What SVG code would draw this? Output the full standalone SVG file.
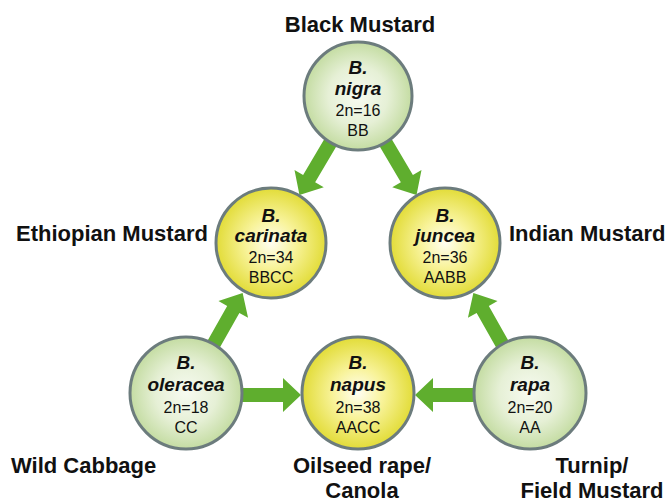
<svg xmlns="http://www.w3.org/2000/svg" width="670" height="504" viewBox="0 0 670 504">
  <defs>
    <radialGradient id="gGreen" cx="50%" cy="50%" r="50%">
      <stop offset="0" stop-color="#f7fbf1"/>
      <stop offset="0.55" stop-color="#e6f0d6"/>
      <stop offset="1" stop-color="#c4dca2"/>
    </radialGradient>
    <radialGradient id="gYellow" cx="50%" cy="50%" r="50%">
      <stop offset="0" stop-color="#fffef2"/>
      <stop offset="0.45" stop-color="#f8f39a"/>
      <stop offset="1" stop-color="#e2dc38"/>
    </radialGradient>
  </defs>
  <style>
    .green { fill: url(#gGreen); stroke: #6c7c7d; stroke-width: 3; }
    .yellow { fill: url(#gYellow); stroke: #6c7c7d; stroke-width: 3; }
    .sp { font-family: "Liberation Sans", Arial, sans-serif; font-weight: bold; font-style: italic; font-size: 19px; fill: #111; text-anchor: middle; }
    .cn { font-family: "Liberation Sans", Arial, sans-serif; font-size: 16px; fill: #111; text-anchor: middle; }
    .lbl { font-family: "Liberation Sans", Arial, sans-serif; font-weight: bold; font-size: 22px; fill: #111; }
    .arrow { fill: #5fae2e; }
  </style>

  <g id="connectors">
    <polygon class="arrow" transform="translate(358,96) rotate(120.6)" points="40,-7 96,-7 96,-17 115,0 96,17 96,7 40,7"/>
    <polygon class="arrow" transform="translate(358,96) rotate(59.4)" points="40,-7 96,-7 96,-17 115,0 96,17 96,7 40,7"/>
    <polygon class="arrow" transform="translate(186,393) rotate(-60.5)" points="40,-7 96,-7 96,-17 115,0 96,17 96,7 40,7"/>
    <polygon class="arrow" transform="translate(530,393) rotate(-119.5)" points="40,-7 96,-7 96,-17 115,0 96,17 96,7 40,7"/>
    <polygon class="arrow" transform="translate(186,395)" points="40,-7 97,-7 97,-17 115,0 97,17 97,7 40,7"/>
    <polygon class="arrow" transform="translate(530,395) rotate(180)" points="40,-7 97,-7 97,-17 115,0 97,17 97,7 40,7"/>
  </g>

  <g id="nigra">
    <circle class="green" cx="358" cy="96" r="54"/>
    <text class="sp" x="358" y="74">B.</text>
    <text class="sp" x="358" y="95">nigra</text>
    <text class="cn" x="358" y="116">2n=16</text>
    <text class="cn" x="358" y="136">BB</text>
  </g>

  <g id="carinata">
    <circle class="yellow" cx="271" cy="243" r="55"/>
    <text class="sp" x="271" y="222">B.</text>
    <text class="sp" x="271" y="242">carinata</text>
    <text class="cn" x="271" y="263">2n=34</text>
    <text class="cn" x="271" y="283">BBCC</text>
  </g>

  <g id="juncea">
    <circle class="yellow" cx="445" cy="243" r="55"/>
    <text class="sp" x="445" y="222">B.</text>
    <text class="sp" x="445" y="242">juncea</text>
    <text class="cn" x="445" y="263">2n=36</text>
    <text class="cn" x="445" y="283">AABB</text>
  </g>

  <g id="oleracea">
    <circle class="green" cx="186" cy="393" r="56"/>
    <text class="sp" x="186" y="369">B.</text>
    <text class="sp" x="186" y="391">oleracea</text>
    <text class="cn" x="186" y="413">2n=18</text>
    <text class="cn" x="186" y="433">CC</text>
  </g>

  <g id="napus">
    <circle class="yellow" cx="358" cy="393" r="56"/>
    <text class="sp" x="358" y="369">B.</text>
    <text class="sp" x="358" y="391">napus</text>
    <text class="cn" x="358" y="413">2n=38</text>
    <text class="cn" x="358" y="433">AACC</text>
  </g>

  <g id="rapa">
    <circle class="green" cx="530" cy="393" r="56"/>
    <text class="sp" x="530" y="369">B.</text>
    <text class="sp" x="530" y="391">rapa</text>
    <text class="cn" x="530" y="413">2n=20</text>
    <text class="cn" x="530" y="433">AA</text>
  </g>

  <g id="labels">
    <text class="lbl" x="360" y="32" text-anchor="middle">Black Mustard</text>
    <text class="lbl" x="16" y="241">Ethiopian Mustard</text>
    <text class="lbl" x="509" y="241">Indian Mustard</text>
    <text class="lbl" x="11" y="473">Wild Cabbage</text>
    <text class="lbl" x="362" y="473" text-anchor="middle">Oilseed rape/</text>
    <text class="lbl" x="362" y="498" text-anchor="middle">Canola</text>
    <text class="lbl" x="592" y="473" text-anchor="middle">Turnip/</text>
    <text class="lbl" x="592" y="498" text-anchor="middle">Field Mustard</text>
  </g>
</svg>
